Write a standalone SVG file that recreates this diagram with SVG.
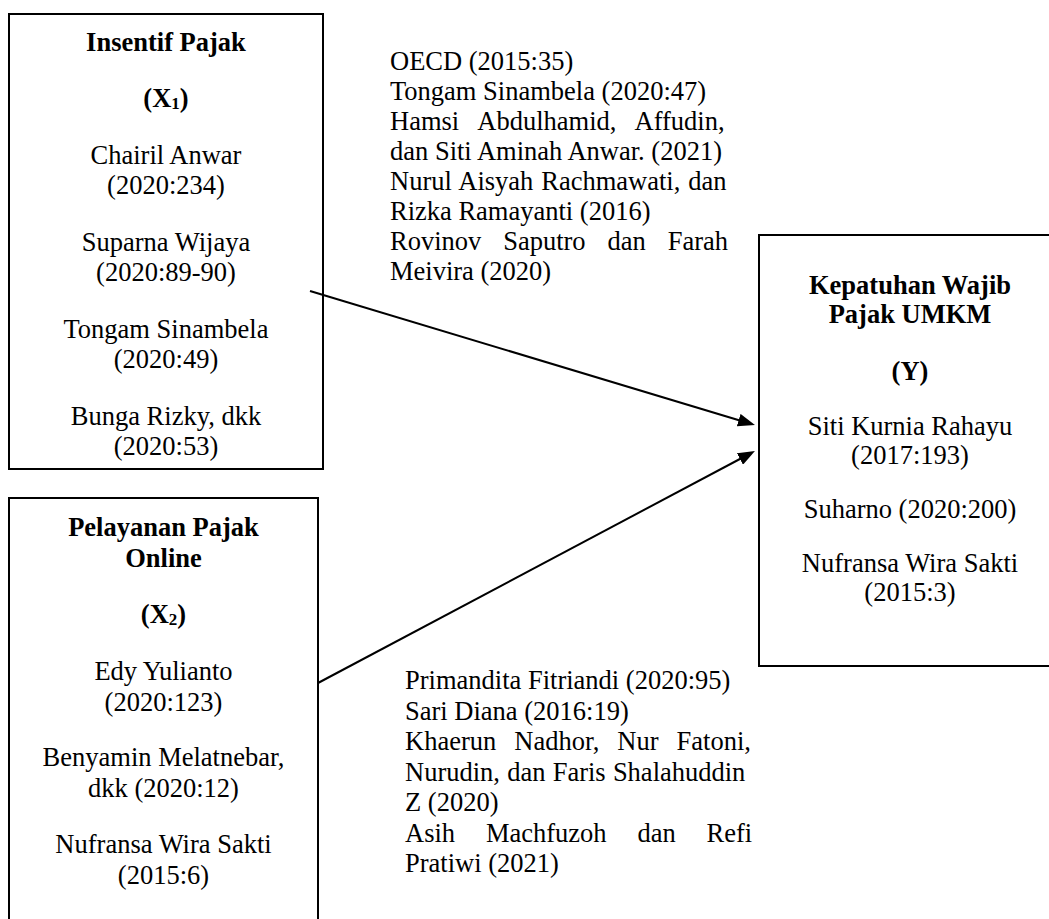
<svg xmlns="http://www.w3.org/2000/svg" width="1049" height="919" viewBox="0 0 1049 919">
<style>
.bx{fill:none;stroke:#000;stroke-width:2}
.t{font-family:"Liberation Serif","Times New Roman",serif;font-size:26.5px;fill:#000}
.c{text-anchor:middle}
.b{font-weight:bold}
.ln{stroke:#000;stroke-width:2;fill:none}
</style>
<defs>
<marker id="ah" markerUnits="userSpaceOnUse" markerWidth="17" markerHeight="13" refX="9" refY="6.5" orient="auto">
<path d="M0,0 L17,6.5 L0,13 Z" fill="#000"/>
</marker>
</defs>
<rect width="1049" height="919" fill="#fff"/>
<g id="node-x1">
<rect class="bx" x="9" y="14" width="314" height="455"/>
<text class="t c b" x="166" y="51">Insentif Pajak</text>
<text class="t c b" x="166" y="107.4">(X<tspan font-size="17" dy="2">1</tspan><tspan dy="-2">)</tspan></text>
<text class="t c" x="166" y="163.8">Chairil Anwar</text>
<text class="t c" x="166" y="194.3">(2020:234)</text>
<text class="t c" x="166" y="250.7">Suparna Wijaya</text>
<text class="t c" x="166" y="281.2">(2020:89-90)</text>
<text class="t c" x="166" y="337.6">Tongam Sinambela</text>
<text class="t c" x="166" y="368.1">(2020:49)</text>
<text class="t c" x="166" y="424.5">Bunga Rizky, dkk</text>
<text class="t c" x="166" y="455">(2020:53)</text>
</g>
<g id="node-x2">
<rect class="bx" x="9" y="498" width="309" height="440"/>
<text class="t c b" x="163.5" y="536">Pelayanan Pajak</text>
<text class="t c b" x="163.5" y="567">Online</text>
<text class="t c b" x="163.5" y="623">(X<tspan font-size="17" dy="2">2</tspan><tspan dy="-2">)</tspan></text>
<text class="t c" x="163.5" y="680">Edy Yulianto</text>
<text class="t c" x="163.5" y="710.5">(2020:123)</text>
<text class="t c" x="163.5" y="766">Benyamin Melatnebar,</text>
<text class="t c" x="163.5" y="796.5">dkk (2020:12)</text>
<text class="t c" x="163.5" y="853">Nufransa Wira Sakti</text>
<text class="t c" x="163.5" y="883.5">(2015:6)</text>
</g>
<g id="node-y">
<rect class="bx" x="759" y="235" width="320" height="431"/>
<text class="t c b" x="910" y="294">Kepatuhan Wajib</text>
<text class="t c b" x="910" y="323">Pajak UMKM</text>
<text class="t c b" x="910" y="380">(Y)</text>
<text class="t c" x="910" y="435">Siti Kurnia Rahayu</text>
<text class="t c" x="910" y="464">(2017:193)</text>
<text class="t c" x="910" y="518">Suharno (2020:200)</text>
<text class="t c" x="910" y="572">Nufransa Wira Sakti</text>
<text class="t c" x="910" y="601">(2015:3)</text>
</g>
<g id="refs-x1">
<text class="t" x="390" y="70">OECD (2015:35)</text>
<text class="t" x="390" y="100">Tongam Sinambela (2020:47)</text>
<text class="t" x="390" y="130" word-spacing="12.95">Hamsi Abdulhamid, Affudin,</text>
<text class="t" x="390" y="160">dan Siti Aminah Anwar. (2021)</text>
<text class="t" x="390" y="190" word-spacing="1.29">Nurul Aisyah Rachmawati, dan</text>
<text class="t" x="390" y="220">Rizka Ramayanti (2016)</text>
<text class="t" x="390" y="250" word-spacing="15.26">Rovinov Saputro dan Farah</text>
<text class="t" x="390" y="280">Meivira (2020)</text>
</g>
<g id="refs-x2">
<text class="t" x="405" y="689">Primandita Fitriandi (2020:95)</text>
<text class="t" x="405" y="719.5">Sari Diana (2016:19)</text>
<text class="t" x="405" y="750" word-spacing="11.4">Khaerun Nadhor, Nur Fatoni,</text>
<text class="t" x="405" y="780.5" word-spacing="0.6">Nurudin, dan Faris Shalahuddin</text>
<text class="t" x="405" y="811">Z (2020)</text>
<text class="t" x="405" y="841.5" word-spacing="24.2">Asih Machfuzoh dan Refi</text>
<text class="t" x="405" y="872">Pratiwi (2021)</text>
</g>
<g id="connectors">
<line class="ln" x1="310" y1="291" x2="747.3" y2="422.7" marker-end="url(#ah)"/>
<line class="ln" x1="318" y1="683" x2="747.9" y2="454.75" marker-end="url(#ah)"/>
</g>
</svg>
